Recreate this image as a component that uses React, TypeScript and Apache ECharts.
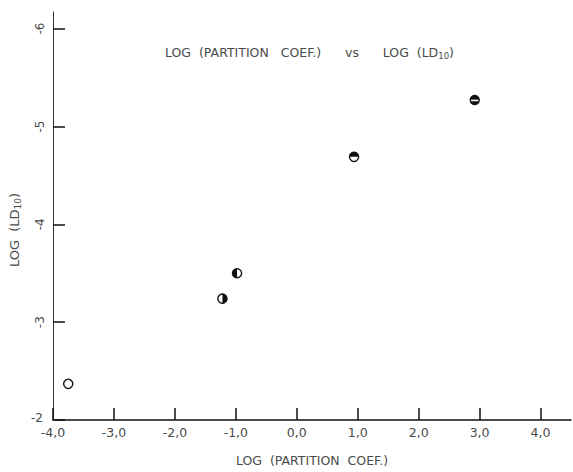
import React, { useEffect, useRef } from "react";
import * as echarts from "echarts";

const xTickValues = [-4, -3, -2, -1, 0, 1, 2, 3, 4];
const xTickLabels = ["-4,0", "-3,0", "-2,0", "-1,0", "0,0", "1,0", "2,0", "3,0", "4,0"];
const yTickValues = [-6, -5, -4, -3, -2];
const yTickLabels = ["-6", "-5", "-4", "-3", "-2"];
const partitionLog = [-3.75, -1.22, -0.98, 0.94, 2.92];
const ld10Log = [-2.37, -3.24, -3.5, -4.69, -5.27];
const markerFill = ["none", "right", "left", "top", "band"];

const FONT = "DejaVu Sans";
const TEXT = "#4a4a4a";
const INK = "#111";

export default function App() {
  const ref = useRef<HTMLDivElement>(null);
  useEffect(() => {
    if (!ref.current) return;
    const chart = echarts.init(ref.current, undefined, { renderer: "svg" });
    const data = partitionLog.map((x, i) => [x, ld10Log[i]]);
    const R = 4.6;
    chart.setOption({
      animation: false,
      backgroundColor: "#fff",
      title: {
        text: "{a|LOG  (PARTITION   COEF.)      vs      LOG  (LD}{s|10}{a|)}",
        left: 160,
        top: 40,
        textStyle: {
          fontWeight: "normal",
          rich: {
            a: { fontFamily: FONT, fontSize: 12.5, fontWeight: "normal", color: TEXT },
            s: { fontFamily: FONT, fontSize: 8.5, fontWeight: "normal", color: TEXT, verticalAlign: "bottom", padding: [6, 0, 0, 0] },
          },
        },
      },
      grid: { left: 50, right: 2, top: 12, bottom: 50 },
      xAxis: {
        type: "value",
        min: -4,
        max: 4.5,
        interval: 1,
        name: "LOG  (PARTITION  COEF.)",
        nameLocation: "middle",
        nameGap: 34,
        nameTextStyle: { fontFamily: FONT, fontSize: 12.5, color: TEXT },
        axisLine: { show: true, onZero: false, lineStyle: { color: INK, width: 1.5 } },
        axisTick: { show: true, inside: true, length: 12, customValues: xTickValues, lineStyle: { color: INK, width: 1.5 } },
        axisLabel: {
          customValues: xTickValues,
          margin: 6,
          fontFamily: FONT,
          fontSize: 12.5,
          color: TEXT,
          formatter: (v: number) => {
            const i = xTickValues.indexOf(Math.round(v * 100) / 100);
            return i >= 0 ? xTickLabels[i] : "";
          },
        },
        splitLine: { show: false },
      },
      yAxis: {
        type: "value",
        inverse: true,
        min: -6.17,
        max: -2,
        name: "LOG  (LD{s|10})",
        nameLocation: "middle",
        nameGap: 31,
        nameRotate: 90,
        nameTextStyle: {
          fontFamily: FONT,
          fontSize: 13,
          color: TEXT,
          padding: [0, 28, 0, 0],
          rich: { s: { fontFamily: FONT, fontSize: 9, color: TEXT, verticalAlign: "bottom", padding: [6, 0, 0, 0] } },
        },
        axisLine: { show: true, onZero: false, lineStyle: { color: "#333", width: 1 } },
        axisTick: { show: true, inside: true, length: 12, customValues: yTickValues, lineStyle: { color: INK, width: 1.5 } },
        axisLabel: {
          customValues: yTickValues.slice(0, 4),
          rotate: 90,
          margin: 7,
          fontFamily: FONT,
          fontSize: 12,
          color: TEXT,
          formatter: (v: number) => {
            const i = yTickValues.indexOf(Math.round(v * 100) / 100);
            return i >= 0 ? yTickLabels[i] : "";
          },
        },
        splitLine: { show: false },
      },
      series: [
        {
          type: "custom",
          data,
          renderItem: (params: any, api: any) => {
            const p = api.coord([api.value(0), api.value(1)]);
            const kind = markerFill[params.dataIndex];
            const children: any[] = [];
            const cx = p[0];
            const cy = p[1];
            if (kind === "band") {
              children.push({ type: "circle", shape: { cx, cy, r: R }, style: { fill: INK, stroke: INK, lineWidth: 1.2 } });
              children.push({ type: "rect", shape: { x: cx - R + 1, y: cy - 0.4, width: 2 * R - 2, height: 1.6 }, style: { fill: "#fff" } });
            } else {
              children.push({ type: "circle", shape: { cx, cy, r: R }, style: { fill: "#fff", stroke: INK, lineWidth: 1.4 } });
              let a: number[] | null = null;
              if (kind === "left") a = [Math.PI / 2, (3 * Math.PI) / 2];
              if (kind === "right") a = [-Math.PI / 2, Math.PI / 2];
              if (kind === "top") a = [Math.PI, 2 * Math.PI];
              if (kind === "bottom") a = [0, Math.PI];
              if (a) {
                children.push({
                  type: "sector",
                  shape: { cx, cy, r: R, r0: 0, startAngle: a[0], endAngle: a[1], clockwise: true },
                  style: { fill: INK },
                });
              }
            }
            return { type: "group", children };
          },
        },
      ],
    });
    const py = chart.convertToPixel({ yAxisIndex: 0 }, yTickValues[4]) as number;
    chart.setOption({
      graphic: [
        {
          type: "text",
          x: 43,
          y: py - 2,
          style: { text: yTickLabels[4], fontFamily: FONT, fontSize: 12, fill: TEXT, align: "right", verticalAlign: "middle" },
        },
      ],
    });
    return () => chart.dispose();
  }, []);
  return <div ref={ref} style={{ position: "absolute", left: 0, top: 0, width: 573, height: 472 }} />;
}
